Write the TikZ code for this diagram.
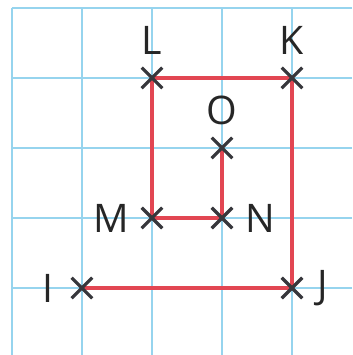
\documentclass[tikz,border=0pt]{standalone}
\usepackage{fontspec}
\setmainfont{Open Sans}
\usetikzlibrary{shapes.misc}
\definecolor{gridline}{RGB}{150,212,238}
\definecolor{redline}{RGB}{226,70,82}
\definecolor{mark}{RGB}{55,55,60}

\begin{document}
\begin{tikzpicture}
            \tikzstyle{pt} = [cross out, draw=mark, line width=1.3pt, minimum size=0.25cm, inner sep=0pt]
            \tikzstyle{lbl} = [font=\fontsize{16}{18}\selectfont, text=black!85, inner sep=0pt, label distance=5pt]
            \tikzstyle{route} = [draw=redline, line width=1.4pt]
            \useasboundingbox (-0.171, 0.114) rectangle (4.857, -4.957);

            \foreach \x in {0,...,4}
                \draw[gridline, line width=0.8pt] (\x, 0) -- (\x, -4.957);
            \foreach \y in {0,...,4}
                \draw[gridline, line width=0.8pt] (0, -\y) -- (4.857, -\y);

            \coordinate (l) at (2, -1);
            \coordinate (k) at (4, -1);
            \coordinate (o) at (3, -2);
            \coordinate (m) at (2, -3);
            \coordinate (n) at (3, -3);
            \coordinate (i) at (1, -4);
            \coordinate (j) at (4, -4);

            \draw[route] (n) -- (o);
            \draw[route] (i) -- (j) -- (k) -- (l) -- (m) -- (n);

            \node[pt, label={[lbl]above:L}] (L) at (l) {};
            \node[pt, label={[lbl]above:K}] (K) at (k) {};
            \node[pt, label={[lbl]above:O}] (O) at (o) {};
            \node[pt, label={[lbl]left:M}] (M) at (m) {};
            \node[pt, label={[lbl]right:N}] (N) at (n) {};
            \node[pt, label={[lbl, label distance=7pt]left:I}] (I) at (i) {};
            \node[pt, label={[lbl, label distance=6pt]right:J}] (J) at (j) {};
\end{tikzpicture}
\end{document}
